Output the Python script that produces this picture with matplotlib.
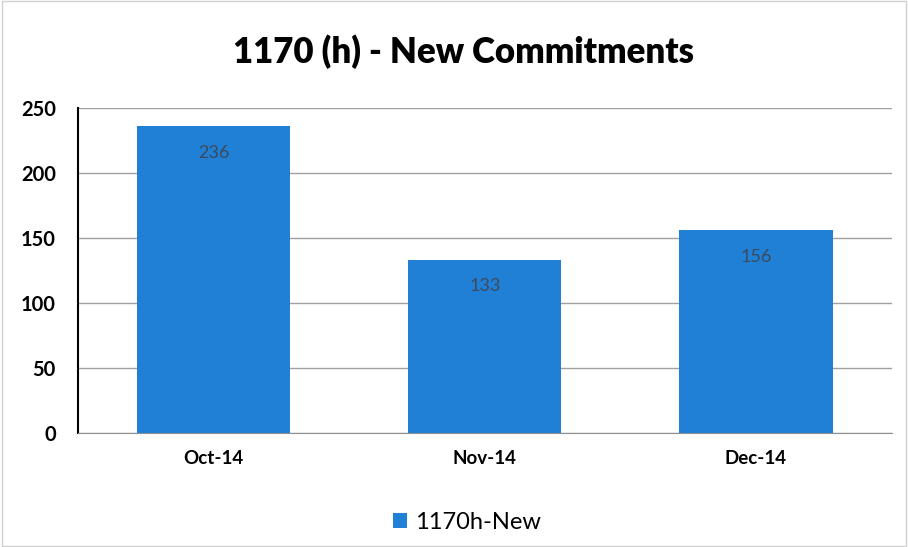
import matplotlib
matplotlib.use("Agg")
import matplotlib.pyplot as plt
from matplotlib.patches import Rectangle

plt.rcParams['font.family'] = ['Lato', 'DejaVu Sans']

# data
months = ["Oct-14", "Nov-14", "Dec-14"]
commitments = [236, 133, 156]
series_name = "1170h-New"

bar_color = "#1f80d5"

fig = plt.figure(figsize=(9.08, 5.47), dpi=100)
ax = fig.add_axes([0.0859, 0.2084, 0.896, 0.5942])

x = range(len(months))
bars = ax.bar(x, commitments, width=0.565, color=bar_color, label=series_name, zorder=2)

ax.set_xlim(-0.5, len(months) - 0.5)
ax.set_ylim(0, 250)
ax.set_yticks(range(0, 251, 50))
ax.set_xticks(list(x))
ax.set_xticklabels(months)
ax.tick_params(axis='y', length=0, labelsize=14.5, pad=16)
ax.tick_params(axis='x', length=0, labelsize=13.5, pad=12)
for lbl in ax.get_xticklabels() + ax.get_yticklabels():
    lbl.set_fontweight('bold')

ax.grid(axis='y', color='#a0a0a0', linewidth=1, zorder=0)
ax.spines['top'].set_visible(False)
ax.spines['right'].set_visible(False)
ax.spines['left'].set_color('black')
ax.spines['left'].set_linewidth(1.5)
ax.spines['bottom'].set_color('#909090')

# value labels inside the bars near the top
for b, v in zip(bars, commitments):
    ax.annotate(str(v), (b.get_x() + b.get_width() / 2, v), xytext=(0, -19),
                textcoords='offset points', ha='center', va='center',
                fontsize=13, color='#3c4a5c')

fig.text(0.51, 0.905, "1170 (h) - New Commitments", ha='center', va='center',
         fontsize=25, fontweight='heavy')

ax.legend(loc='center', bbox_to_anchor=(0.478, -0.275), frameon=False, fontsize=17,
          handlelength=0.6, handleheight=0.6, handletextpad=0.3)

# light frame around the chart area
fig.patches.append(Rectangle((0.002, 0.002), 0.996, 0.996, transform=fig.transFigure,
                             fill=False, edgecolor='#d0d0d0', linewidth=1))

fig.savefig("out.png", dpi=100)
